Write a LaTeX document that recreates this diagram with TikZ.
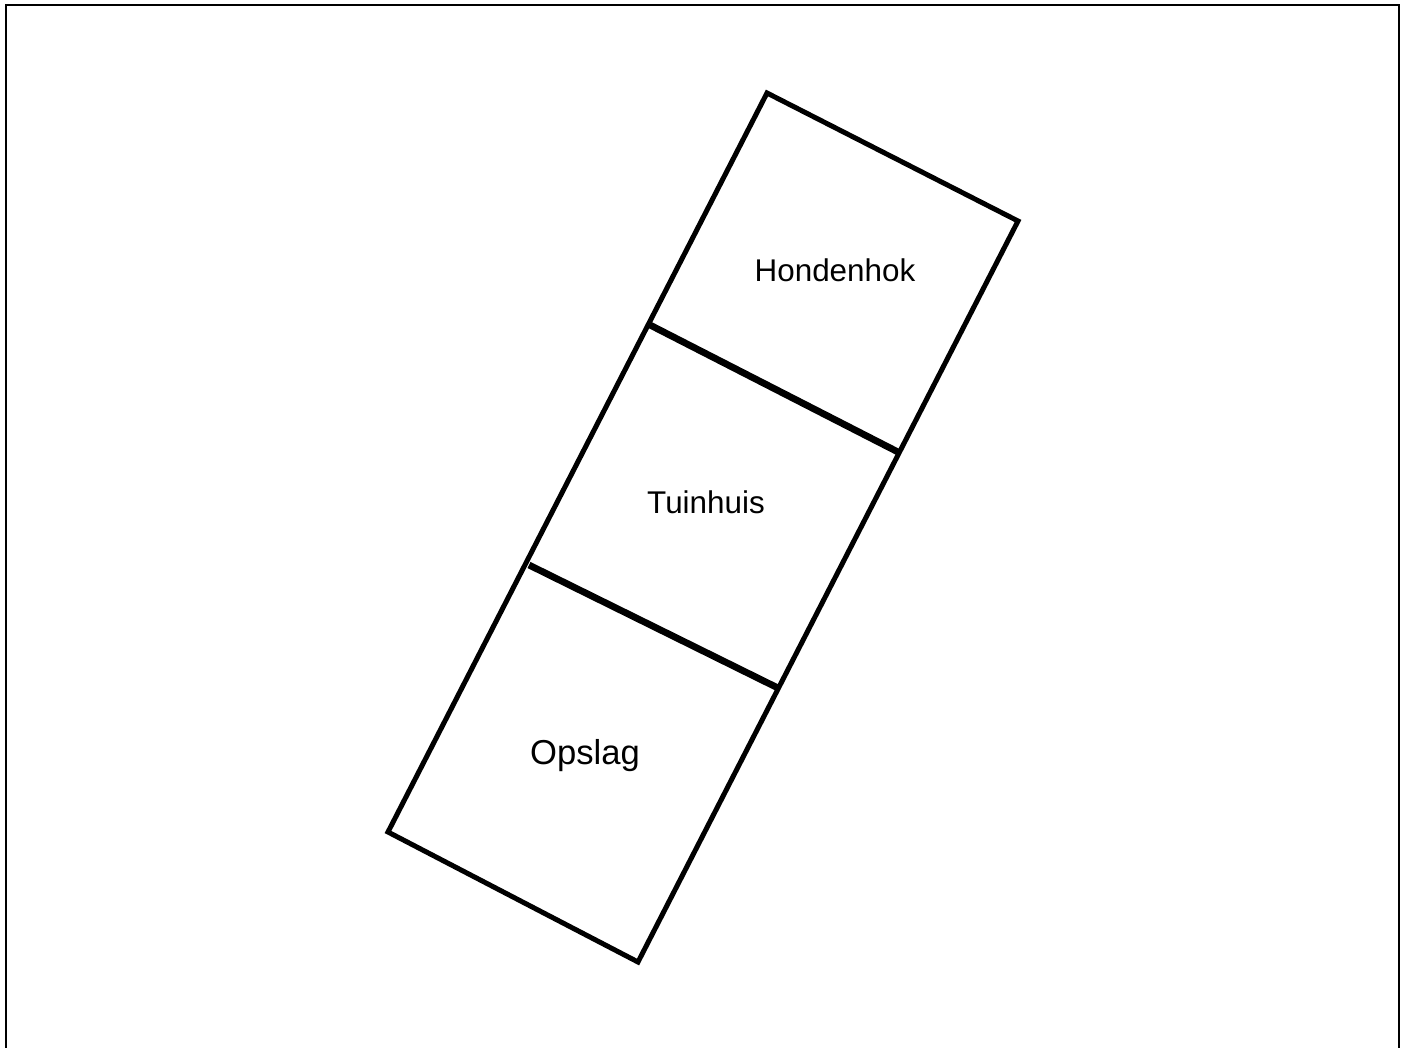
\documentclass[tikz,border=0pt]{standalone}
\usepackage{fontspec}
\setmainfont{Liberation Sans}
\usetikzlibrary{positioning}
\tikzstyle{plan}=[x=0.5pt, y=-0.5pt]
\tikzstyle{frame}=[line width=1.3pt]
\tikzstyle{wall}=[line width=2.5pt]
\tikzstyle{divider}=[line width=3.4pt]
\tikzstyle{roomlabel}=[anchor=base, inner sep=0pt, font=\fontsize{15.7}{18}\selectfont]

\begin{document}
\begin{tikzpicture}[plan]
  \useasboundingbox (0,0) rectangle (1407,1048);
  \draw[frame] (6,1050) -- (6,5) -- (1399,5) -- (1399,1050);
  \coordinate (top) at (767,93);
  \coordinate (right) at (1018,221);
  \coordinate (bottom) at (638,962);
  \coordinate (left) at (388,832);
  \coordinate (d1l) at (650,325);
  \coordinate (d1r) at (898,452);
  \coordinate (d2l) at (529,565);
  \coordinate (d2r) at (778,688);
  \draw[wall] (top) -- (right) -- (bottom) -- (left) -- cycle;
  \draw[divider] (d1l) -- (d1r);
  \draw[divider] (d2l) -- (d2r);
  \node[roomlabel] (hok) at (835,281) {Hondenhok};
  \node[roomlabel] (tuin) at (706,513) {Tuinhuis};
  \node[roomlabel, font=\fontsize{17.3}{20}\selectfont] (opslag) at (585,764) {Opslag};
\end{tikzpicture}
\end{document}
